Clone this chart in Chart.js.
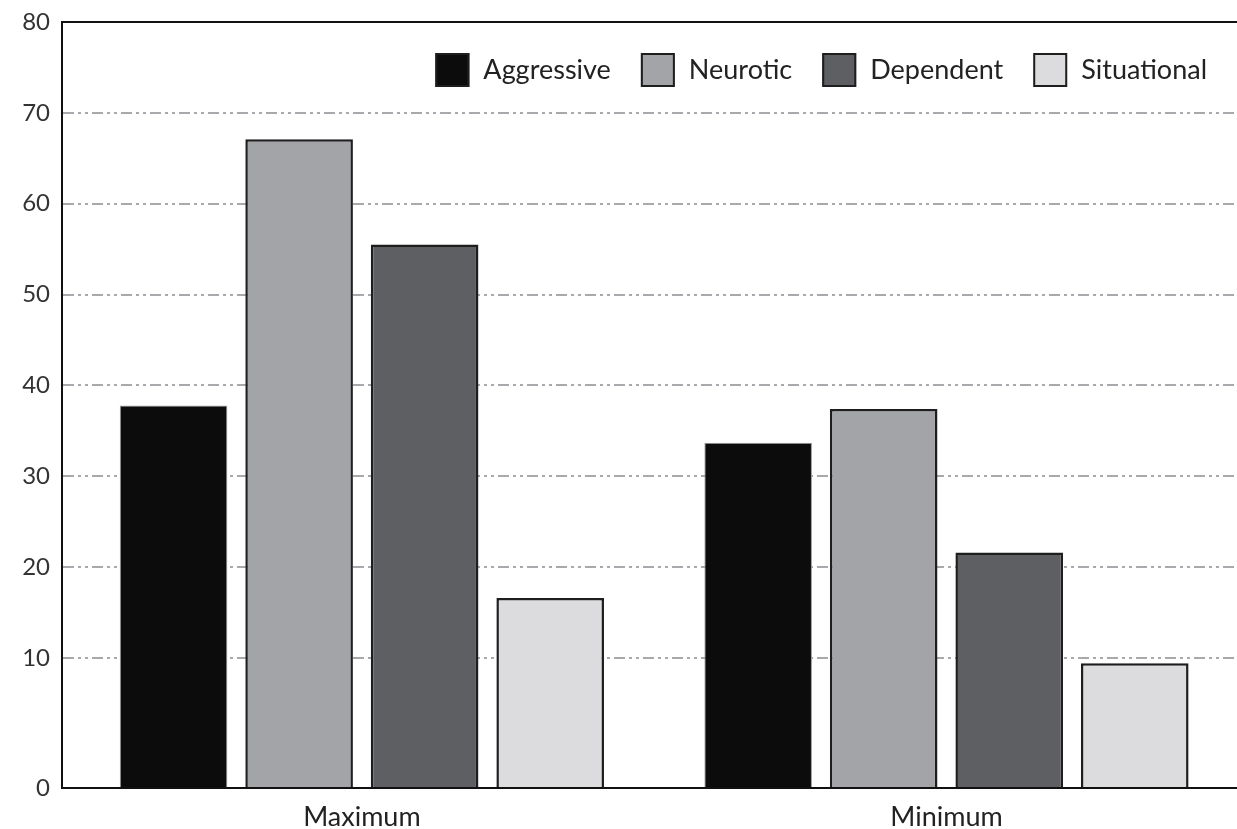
<!DOCTYPE html>
<html>
<head>
<meta charset="utf-8">
<script src="https://cdn.jsdelivr.net/npm/chart.js@4/dist/chart.umd.min.js"></script>
<style>
html,body{margin:0;padding:0;background:#fff;}
#wrap{width:1237px;height:829px;}
</style>
</head>
<body>
<div id="wrap"><canvas id="c" width="1237" height="829"></canvas></div>
<script>
// ---- data ----
const categories = ['Maximum', 'Minimum'];
const seriesNames = ['Aggressive', 'Neurotic', 'Dependent', 'Situational'];
const aggressive = [37.8, 33.7];
const neurotic = [67.1, 37.4];
const dependent = [55.5, 21.6];
const situational = [16.6, 9.6];
const yTicks = [0, 10, 20, 30, 40, 50, 60, 70, 80];

const fills = ['#0d0c0d', '#a3a4a8', '#5e5f63', '#dcdcde'];
const borders = ['#9a9a9a', '#1e1e1e', '#1e1e1e', '#1e1e1e'];
const borderW = [1, 2.5, 2.5, 2.5];
const allSeries = [aggressive, neurotic, dependent, situational];

// ---- broken y scale: 0-10 segment is stretched as in the reference ----
const LOW_FRAC = 130 / 766;
class BrokenLinearScale extends Chart.LinearScale {
  getPixelForValue(value) {
    if (value === null || value === undefined || isNaN(value)) return NaN;
    let t;
    if (value <= 10) t = (value / 10) * LOW_FRAC;
    else t = LOW_FRAC + ((value - 10) / 70) * (1 - LOW_FRAC);
    return this.getPixelForDecimal(t);
  }
  getValueForPixel(pixel) {
    const t = this.getDecimalForPixel(pixel);
    if (t <= LOW_FRAC) return (t / LOW_FRAC) * 10;
    return 10 + ((t - LOW_FRAC) / (1 - LOW_FRAC)) * 70;
  }
}
BrokenLinearScale.id = 'brokenLinear';
BrokenLinearScale.defaults = Chart.LinearScale.defaults;
Chart.register(BrokenLinearScale);

const FONT = 'Lato, "Noto Sans", sans-serif';

// frame line (top) + legend inside plot
const framePlugin = {
  id: 'frame',
  afterDatasetsDraw(chart) {
    const ctx = chart.ctx, a = chart.chartArea;
    ctx.save();
    ctx.strokeStyle = '#111';
    ctx.lineWidth = 2;
    ctx.beginPath();
    ctx.moveTo(a.left, a.top);
    ctx.lineTo(a.right, a.top);
    ctx.stroke();
    // legend
    ctx.font = '27px ' + FONT;
    const box = 34, gapText = 14, gapItem = 30;
    const items = chart.data.datasets.map(d => ({
      label: d.label, fill: d.backgroundColor,
      w: box + gapText + ctx.measureText(d.label).width
    }));
    const total = items.reduce((s, it) => s + it.w, 0) + gapItem * (items.length - 1);
    let x = a.right - 30 - total;
    const y = a.top + 31;
    items.forEach(it => {
      ctx.fillStyle = it.fill;
      ctx.fillRect(x, y, box, box);
      ctx.strokeStyle = '#1e1e1e';
      ctx.lineWidth = 2;
      ctx.strokeRect(x + 1, y + 1, box - 2, box - 2);
      ctx.fillStyle = '#222';
      ctx.textBaseline = 'middle';
      ctx.textAlign = 'left';
      ctx.fillText(it.label, x + box + gapText, y + box / 2);
      x += it.w + gapItem;
    });
    ctx.restore();
  }
};

const datasets = seriesNames.map((name, k) => ({
  label: name,
  data: allSeries[k].map((v, i) => ({ x: i, y: v })),
  backgroundColor: fills[k],
  borderColor: borders[k],
  borderWidth: borderW[k],
  borderSkipped: 'bottom',
  categoryPercentage: 0.859,
  barPercentage: 0.857
}));

new Chart(document.getElementById('c'), {
  type: 'bar',
  data: { datasets },
  plugins: [framePlugin],
  options: {
    responsive: false,
    animation: false,
    devicePixelRatio: 1,
    layout: { padding: { top: 22, right: 0, left: 0, bottom: 0 } },
    plugins: { legend: { display: false }, tooltip: { enabled: false } },
    scales: {
      x: {
        type: 'linear',
        offset: false,
        min: -0.513,
        max: 1.497,
        afterBuildTicks: s => { s.ticks = categories.map((c, i) => ({ value: i })); },
        afterFit: s => { s.height = 41; },
        grid: { display: false, drawTicks: false, offset: false },
        border: { display: true, color: '#111', width: 2 },
        ticks: {
          callback: v => categories[v],
          font: { family: FONT, size: 27 },
          color: '#222',
          padding: 13,
          maxRotation: 0,
          autoSkip: false
        }
      },
      y: {
        type: 'brokenLinear',
        min: 0,
        max: 80,
        afterBuildTicks: s => { s.ticks = yTicks.map(v => ({ value: v })); },
        afterFit: s => { s.width = 62; },
        grid: {
          drawTicks: false,
          lineWidth: 2,
          color: c => (c.tick && (c.tick.value === 0 || c.tick.value === 80)) ? 'rgba(0,0,0,0)' : '#a9a9ad'
        },
        border: { display: true, color: '#111', width: 2, dash: [11, 4, 3, 4, 3, 4] },
        ticks: {
          font: { family: FONT, size: 24, lineHeight: 0.8 },
          color: '#333',
          padding: 12
        }
      }
    }
  }
});
</script>
</body>
</html>
